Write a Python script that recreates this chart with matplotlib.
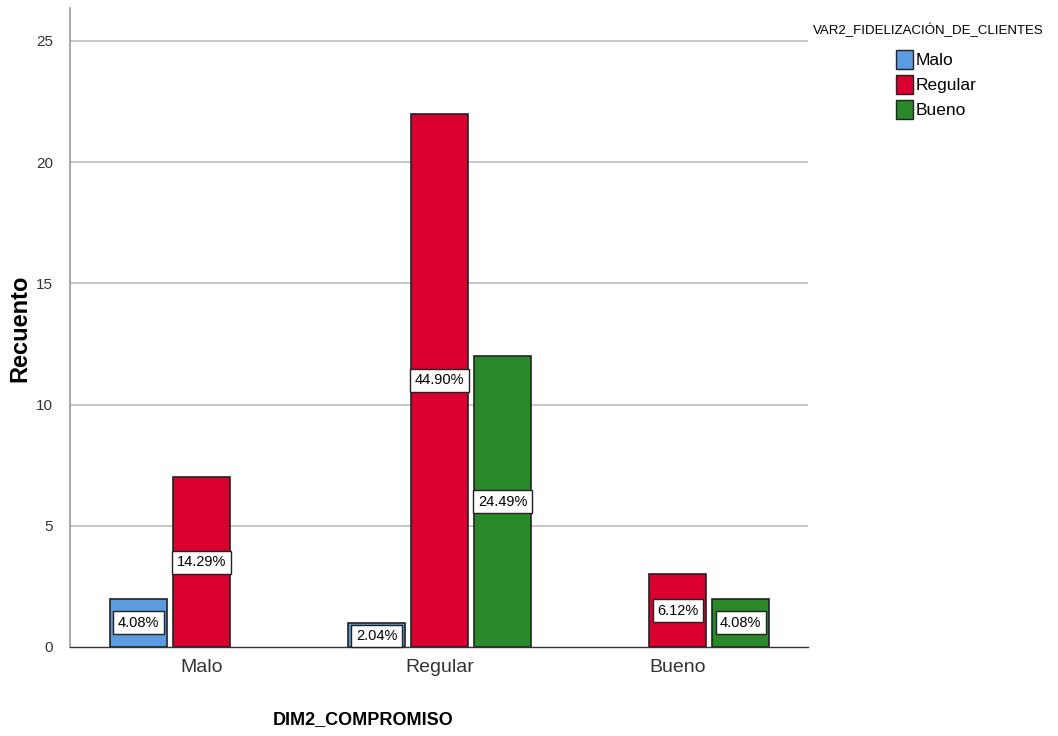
import matplotlib
matplotlib.use("Agg")
import matplotlib.pyplot as plt
import numpy as np
from matplotlib.patches import Patch

categories = ["Malo", "Regular", "Bueno"]
series_names = ["Malo", "Regular", "Bueno"]
counts = {
    "Malo":    [2, 1, 0],
    "Regular": [7, 22, 3],
    "Bueno":   [0, 12, 2],
}
pct_labels = {
    "Malo":    ["4.08%", "2.04%", None],
    "Regular": ["14.29%", "44.90%", "6.12%"],
    "Bueno":   [None, "24.49%", "4.08%"],
}
colors = {"Malo": "#5B9BE0", "Regular": "#D9002F", "Bueno": "#2A8A2A"}

plt.rcParams["font.family"] = ["Liberation Sans", "DejaVu Sans"]

fig = plt.figure(figsize=(10.58, 7.36), dpi=100)
ax = fig.add_axes([70/1058, 1-647/736, (808-70)/1058, (647-8)/736])

x = np.arange(len(categories))
width = 0.2395
offsets = {"Malo": -0.2647, "Regular": 0.0, "Bueno": 0.2647}

for s in series_names:
    vals = counts[s]
    for i, v in enumerate(vals):
        if v <= 0:
            continue
        ax.bar(x[i] + offsets[s], v, width=width, color=colors[s],
               edgecolor="#222222", linewidth=1.2, zorder=3)
        lab = pct_labels[s][i]
        if lab:
            yc = v / 2 if v > 1 else 0.45
            ax.text(x[i] + offsets[s], yc, lab, ha="center", va="center",
                    fontsize=10.5, zorder=5, clip_on=False,
                    bbox=dict(boxstyle="square,pad=0.3", facecolor="white",
                              edgecolor="#222222", linewidth=1.0))

ax.set_xlim(-0.5525, 2.548)
ax.set_ylim(0, 26.36)
ax.set_yticks([0, 5, 10, 15, 20, 25])
ax.set_xticks(x)
ax.set_xticklabels(categories, fontsize=14, color="#333333")
ax.tick_params(axis="y", labelsize=11, length=0, pad=12, colors="#333333")
ax.tick_params(axis="x", length=0, pad=9)
for yv in [5, 10, 15, 20, 25]:
    ax.axhline(yv, color="#C8C8C8", linewidth=1.5, zorder=1)

ax.spines["top"].set_visible(False)
ax.spines["right"].set_visible(False)
ax.spines["left"].set_color("#999999")
ax.spines["left"].set_linewidth(1.2)
ax.spines["bottom"].set_color("#333333")
ax.spines["bottom"].set_linewidth(1.0)
ax.spines["bottom"].set_zorder(4)

fig.text(20/1058, 1-328/736, "Recuento", rotation=90, ha="center",
         va="center", fontsize=17, fontweight="bold")
fig.text(363/1058, 1-720/736, "DIM2_COMPROMISO", ha="center", va="center",
         fontsize=13, fontweight="bold")

# Legend
fig.text(928/1058, 1-30/736, "VAR2_FIDELIZACIÓN_DE_CLIENTES", ha="center",
         va="center", fontsize=9.5)
handles = [Patch(facecolor=colors[s], edgecolor="#222222", linewidth=1.0)
           for s in series_names]
leg = fig.legend(handles, series_names, loc="upper left",
                 bbox_to_anchor=(896/1058, 1-50/736), frameon=False,
                 fontsize=12.5, handlelength=1.0, handleheight=1.3,
                 handletextpad=0.15, labelspacing=0.35, borderpad=0,
                 borderaxespad=0)

fig.savefig("out.png", dpi=100)
